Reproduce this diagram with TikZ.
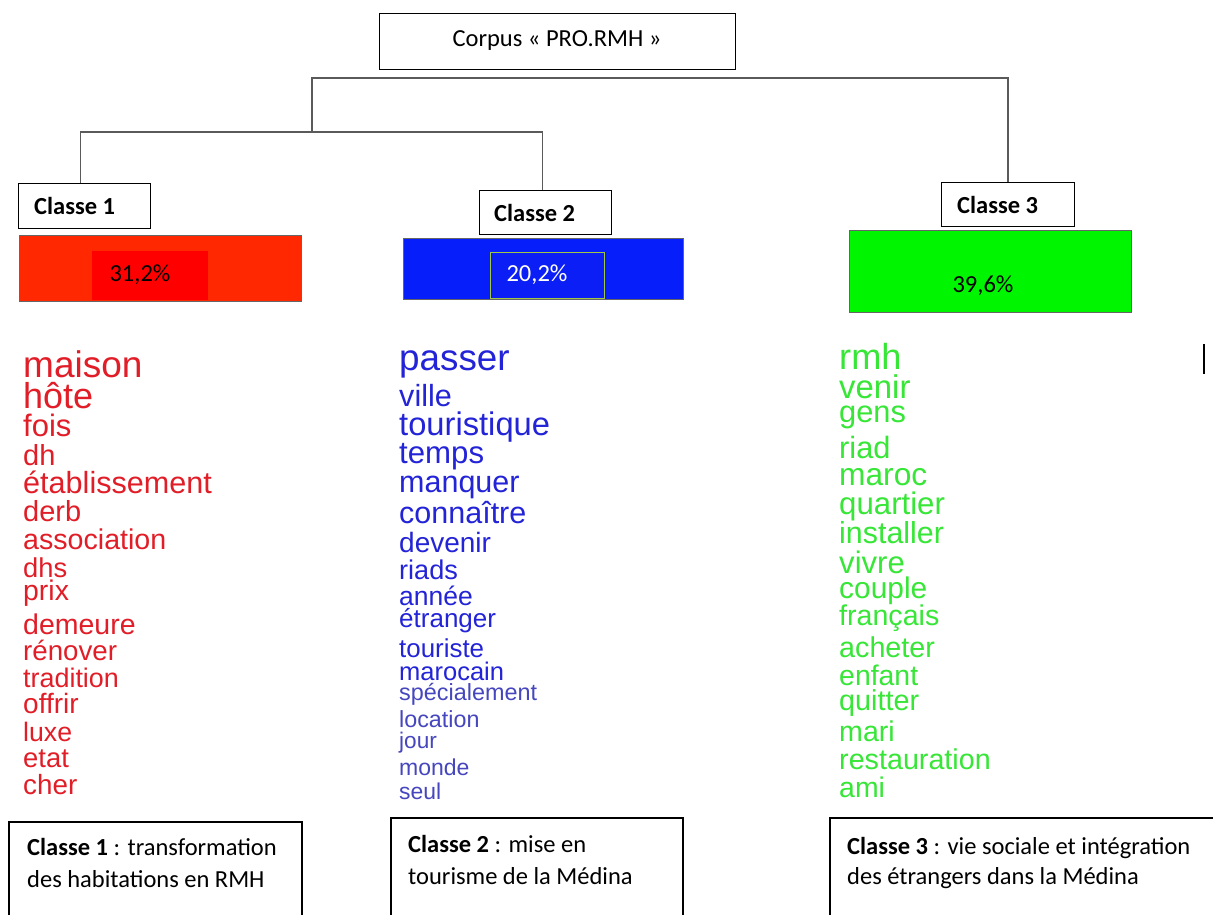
\documentclass[tikz,border=0pt]{standalone}
\usepackage{fontspec}
\setmainfont{Carlito}
\newfontfamily\arialf{Liberation Sans}
\definecolor{redbar}{RGB}{255,40,0}
\definecolor{redin}{RGB}{255,0,0}
\definecolor{bluebar}{RGB}{5,30,250}
\definecolor{bluein}{RGB}{10,30,245}
\definecolor{ygreen}{RGB}{160,200,70}
\definecolor{greenbar}{RGB}{0,245,0}
\definecolor{wred}{RGB}{225,30,40}
\definecolor{wblue}{RGB}{35,35,215}
\definecolor{wblueb}{RGB}{70,70,190}
\definecolor{wgreen}{RGB}{55,230,55}
\definecolor{treegray}{RGB}{90,90,90}
\begin{document}
\begin{tikzpicture}[x=1pt,y=-1pt,
  box/.style={draw=black,line width=1.3pt,fill=white,inner sep=0pt,anchor=north west},
  lab/.style={font=\fontsize{24.5}{28}\selectfont\bfseries,anchor=west,inner sep=0pt},
  pct/.style={font=\fontsize{24.5}{28}\selectfont,inner sep=0pt},
  tree/.style={draw=treegray,line width=1.6pt},
  bar/.style={draw=black!60,line width=1pt,inner sep=0pt,anchor=north west},
  word/.style={anchor=base west,inner sep=0pt},
  desc/.style={font=\fontsize{24.5}{32}\selectfont,anchor=base west,inner sep=0pt}]
\useasboundingbox (0,0) rectangle (1213,914);
\fill[white] (0,0) rectangle (1213,914);

% top box
\node[box,minimum width=356pt,minimum height=56pt] (top) at (379,13) {};
\node[font=\fontsize{24.5}{28}\selectfont,inner sep=0pt] (toptxt) at (557,41) {Corpus « PRO.RMH »};

% class boxes
\node[box,minimum width=132pt,minimum height=45pt] (c1) at (18,183) {};
\node[lab] (c1t) at (34,206) {Classe 1};
\node[box,minimum width=132pt,minimum height=44pt] (c2) at (479,190) {};
\node[lab] (c2t) at (494,213) {Classe 2};
\node[box,minimum width=133pt,minimum height=44pt] (c3) at (941,182) {};
\node[lab] (c3t) at (957,205) {Classe 3};

% tree
\coordinate (j0) at (312,78);
\coordinate (j1) at (312,132);
\draw[tree] ([xshift=-4pt]c1.north) |- (j1) -| ([xshift=-3pt]c2.north);
\draw[tree] (j1) -- (j0) -| (c3.north);

% bars
\node[bar,fill=redbar,minimum width=282pt,minimum height=66pt] (b1) at (19,235) {};
\node[fill=redin,inner sep=0pt,anchor=north west,minimum width=116pt,minimum height=49pt] (b1in) at (92,251) {};
\node[pct] (p1) at (140,275) {31,2\%};

\node[bar,fill=bluebar,minimum width=280pt,minimum height=61pt] (b2) at (403,238) {};
\node[draw=ygreen,line width=1pt,fill=bluein,inner sep=0pt,anchor=north west,minimum width=114pt,minimum height=46pt] (b2in) at (490,252) {};
\node[pct,text=white] (p2) at (537,275) {20,2\%};

\node[bar,fill=greenbar,minimum width=282pt,minimum height=82pt] (b3) at (849,230) {};
\node[pct] (p3) at (983,286) {39,6\%};

% class 1 words
\begin{scope}[every node/.style={word,text=wred}]
\node[font=\arialf\fontsize{37}{37}\selectfont] (w11) at (23,377) {maison};
\node[font=\arialf\fontsize{36}{36}\selectfont] (w12) at (23,408) {hôte};
\node[font=\arialf\fontsize{31}{31}\selectfont] (w13) at (23,436) {fois};
\node[font=\arialf\fontsize{29}{29}\selectfont] (w14) at (23,465) {dh};
\node[font=\arialf\fontsize{30.6}{31}\selectfont] (w15) at (23,493) {établissement};
\node[font=\arialf\fontsize{29}{29}\selectfont] (w16) at (23,521) {derb};
\node[font=\arialf\fontsize{28.6}{29}\selectfont] (w17) at (23,549) {association};
\node[font=\arialf\fontsize{27.3}{28}\selectfont] (w18) at (23,577) {dhs};
\node[font=\arialf\fontsize{28.4}{28}\selectfont] (w19) at (23,600) {prix};
\node[font=\arialf\fontsize{28.5}{28}\selectfont] (w110) at (23,634) {demeure};
\node[font=\arialf\fontsize{27.7}{28}\selectfont] (w111) at (23,660) {rénover};
\node[font=\arialf\fontsize{26.9}{28}\selectfont] (w112) at (23,687) {tradition};
\node[font=\arialf\fontsize{28}{28}\selectfont] (w113) at (23,713) {offrir};
\node[font=\arialf\fontsize{26.7}{28}\selectfont] (w114) at (23,741) {luxe};
\node[font=\arialf\fontsize{27.4}{28}\selectfont] (w115) at (23,767) {etat};
\node[font=\arialf\fontsize{27.8}{28}\selectfont] (w116) at (23,794) {cher};
\end{scope}

% class 2 words
\begin{scope}[every node/.style={word,text=wblue}]
\node[font=\arialf\fontsize{36.8}{37}\selectfont] (w21) at (399,370) {passer};
\node[font=\arialf\fontsize{30.6}{31}\selectfont] (w22) at (399,406) {ville};
\node[font=\arialf\fontsize{32.7}{33}\selectfont] (w23) at (399,435) {touristique};
\node[font=\arialf\fontsize{31.2}{31}\selectfont] (w24) at (399,463) {temps};
\node[font=\arialf\fontsize{30.5}{31}\selectfont] (w25) at (399,492) {manquer};
\node[font=\arialf\fontsize{30.5}{31}\selectfont] (w26) at (399,523) {connaître};
\node[font=\arialf\fontsize{28}{28}\selectfont] (w27) at (399,552) {devenir};
\node[font=\arialf\fontsize{27.1}{28}\selectfont] (w28) at (399,579) {riads};
\node[font=\arialf\fontsize{26.5}{27}\selectfont] (w29) at (399,605) {année};
\node[font=\arialf\fontsize{26}{26}\selectfont] (w210) at (399,627) {étranger};
\node[font=\arialf\fontsize{25.9}{26}\selectfont] (w211) at (399,657) {touriste};
\node[font=\arialf\fontsize{25.5}{26}\selectfont] (w212) at (399,680) {marocain};
\end{scope}
\begin{scope}[every node/.style={word,text=wblueb}]
\node[font=\arialf\fontsize{23.4}{24}\selectfont] (w213) at (399,700) {spécialement};
\node[font=\arialf\fontsize{23.3}{24}\selectfont] (w214) at (399,727) {location};
\node[font=\arialf\fontsize{22.6}{23}\selectfont] (w215) at (399,748) {jour};
\node[font=\arialf\fontsize{23}{23}\selectfont] (w216) at (399,775) {monde};
\node[font=\arialf\fontsize{22.9}{23}\selectfont] (w217) at (399,799) {seul};
\end{scope}

% class 3 words
\begin{scope}[every node/.style={word,text=wgreen}]
\node[font=\arialf\fontsize{36.2}{36}\selectfont] (w31) at (839,369) {rmh};
\node[font=\arialf\fontsize{32.9}{33}\selectfont] (w32) at (839,398) {venir};
\node[font=\arialf\fontsize{30.8}{31}\selectfont] (w33) at (839,422) {gens};
\node[font=\arialf\fontsize{30.8}{31}\selectfont] (w34) at (839,458) {riad};
\node[font=\arialf\fontsize{31.7}{32}\selectfont] (w35) at (839,485) {maroc};
\node[font=\arialf\fontsize{31.2}{31}\selectfont] (w36) at (839,514) {quartier};
\node[font=\arialf\fontsize{30.4}{30}\selectfont] (w37) at (839,543) {installer};
\node[font=\arialf\fontsize{31.1}{31}\selectfont] (w38) at (839,573) {vivre};
\node[font=\arialf\fontsize{29.9}{30}\selectfont] (w39) at (839,598) {couple};
\node[font=\arialf\fontsize{28.6}{29}\selectfont] (w310) at (839,625) {français};
\node[font=\arialf\fontsize{28.7}{29}\selectfont] (w311) at (839,657) {acheter};
\node[font=\arialf\fontsize{28.4}{28}\selectfont] (w312) at (839,685) {enfant};
\node[font=\arialf\fontsize{28.8}{29}\selectfont] (w313) at (839,710) {quitter};
\node[font=\arialf\fontsize{28.6}{29}\selectfont] (w314) at (839,741) {mari};
\node[font=\arialf\fontsize{28.7}{29}\selectfont] (w315) at (839,769) {restauration};
\node[font=\arialf\fontsize{28.4}{28}\selectfont] (w316) at (839,797) {ami};
\end{scope}

% cursor mark
\coordinate (cur1) at (1204,344);
\coordinate (cur2) at (1204,374);
\draw[line width=2pt] (cur1) -- (cur2);

% bottom boxes
\draw[line width=1.3pt] (9,916) |- (302,822) -- (302,916);
\node[inner sep=0pt,anchor=north west,minimum width=293pt,minimum height=94pt] (d1) at (9,822) {};
\node[desc] (d1a) at (27,855) {\textbf{Classe 1} : transformation};
\node[desc] (d1b) at (27,887) {des habitations en RMH};

\draw[line width=1.3pt] (391,916) |- (683,818) -- (683,916);
\node[inner sep=0pt,anchor=north west,minimum width=292pt,minimum height=98pt] (d2) at (391,818) {};
\node[desc] (d2a) at (408,852) {\textbf{Classe 2} : mise en};
\node[desc] (d2b) at (408,884) {tourisme de la Médina};

\draw[line width=1.3pt] (830,916) |- (1215,818);
\node[inner sep=0pt,anchor=north west,minimum width=383pt,minimum height=98pt] (d3) at (830,818) {};
\node[desc] (d3a) at (847,854) {\textbf{Classe 3} : vie sociale et intégration};
\node[desc] (d3b) at (847,884) {des étrangers dans la Médina};
\end{tikzpicture}
\end{document}
